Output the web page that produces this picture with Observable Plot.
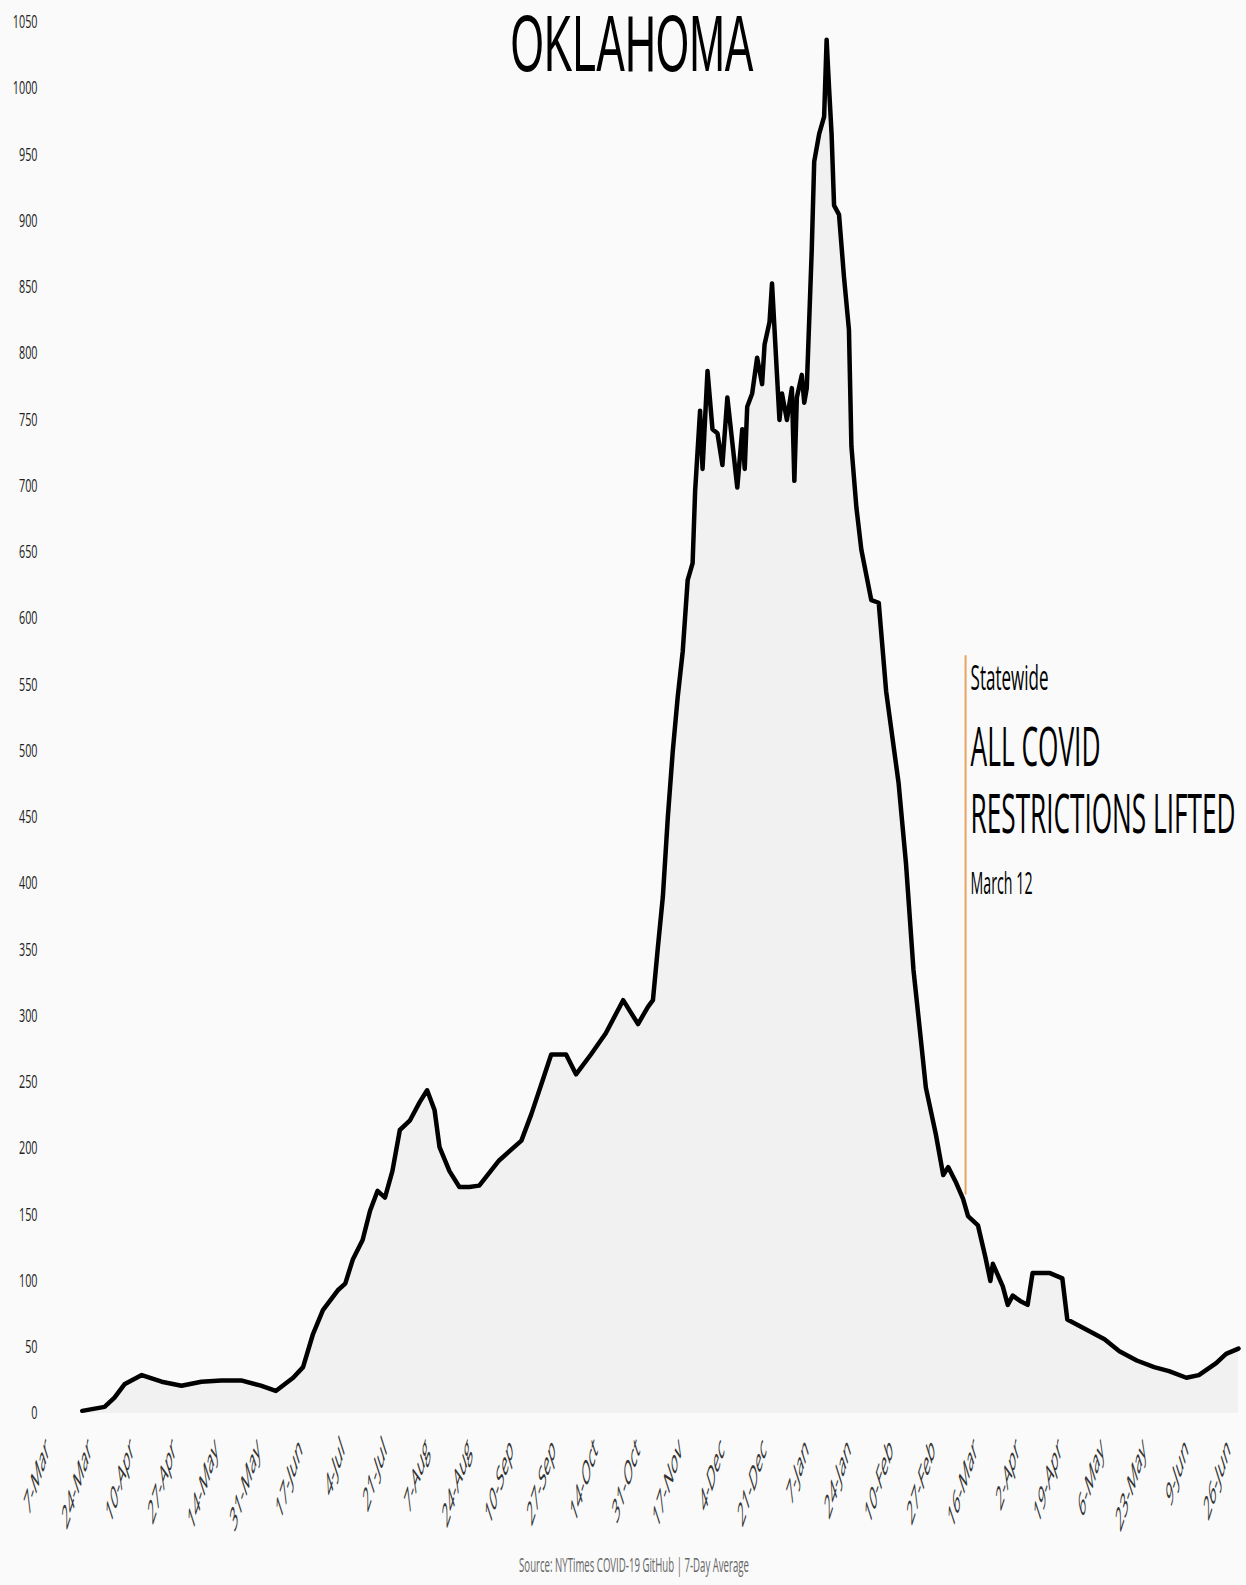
<!DOCTYPE html>
<html>
<head>
<meta charset="utf-8">
<script src="https://cdn.jsdelivr.net/npm/d3@7"></script>
<script src="https://cdn.jsdelivr.net/npm/@observablehq/plot@0.6"></script>
<style>
html, body { margin: 0; padding: 0; background: #fafafa; }
#chart { width: 1246px; height: 1585px; }
</style>
</head>
<body>
<div id="chart"></div>
<script>
// ---- data ----
const dates = [
  "2020-03-21","2020-03-30","2020-04-03","2020-04-07","2020-04-14","2020-04-22","2020-04-30","2020-05-08",
  "2020-05-16","2020-05-24","2020-06-01","2020-06-07","2020-06-14","2020-06-18","2020-06-22","2020-06-26",
  "2020-07-02","2020-07-05","2020-07-08","2020-07-12","2020-07-15","2020-07-18","2020-07-21","2020-07-24",
  "2020-07-27","2020-07-31","2020-08-04","2020-08-07","2020-08-10","2020-08-12","2020-08-16","2020-08-20",
  "2020-08-24","2020-08-28","2020-09-05","2020-09-14","2020-09-18","2020-09-23","2020-09-26","2020-10-02",
  "2020-10-06","2020-10-12","2020-10-18","2020-10-25","2020-10-31","2020-11-04","2020-11-06","2020-11-08",
  "2020-11-10","2020-11-12","2020-11-14","2020-11-16","2020-11-18","2020-11-20","2020-11-22","2020-11-23",
  "2020-11-25","2020-11-26","2020-11-28","2020-11-30","2020-12-02","2020-12-04","2020-12-06","2020-12-08",
  "2020-12-10","2020-12-12","2020-12-13","2020-12-14","2020-12-16","2020-12-18","2020-12-20","2020-12-21",
  "2020-12-23","2020-12-24","2020-12-26","2020-12-27","2020-12-28","2020-12-30","2021-01-01","2021-01-02",
  "2021-01-03","2021-01-05","2021-01-06","2021-01-07","2021-01-09","2021-01-10","2021-01-12","2021-01-14",
  "2021-01-15","2021-01-16","2021-01-17","2021-01-18","2021-01-20","2021-01-22","2021-01-24","2021-01-25",
  "2021-01-27","2021-01-29","2021-02-02","2021-02-05","2021-02-08","2021-02-13","2021-02-16","2021-02-19",
  "2021-02-22","2021-02-24","2021-02-28","2021-03-03","2021-03-05","2021-03-08","2021-03-11","2021-03-13",
  "2021-03-17","2021-03-20","2021-03-22","2021-03-23","2021-03-27","2021-03-29","2021-03-31","2021-04-03",
  "2021-04-06","2021-04-08","2021-04-15","2021-04-20","2021-04-22","2021-04-30","2021-05-07","2021-05-13",
  "2021-05-20","2021-05-27","2021-06-02","2021-06-09","2021-06-14","2021-06-21","2021-06-25","2021-06-30"
];
const hospitalized = [
  2, 5, 12, 22, 29, 24, 21, 24,
  25, 25, 21, 17, 27, 35, 60, 78,
  93, 98, 116, 131, 153, 168, 163, 183,
  214, 221, 235, 244, 229, 201, 183, 171,
  171, 172, 191, 206, 226, 254, 271, 271,
  256, 271, 287, 312, 294, 307, 312, 352,
  390, 450, 500, 541, 575, 629, 642, 696,
  757, 713, 787, 743, 740, 716, 767, 733,
  699, 743, 713, 760, 770, 797, 777, 807,
  824, 853, 784, 750, 770, 750, 774, 704,
  767, 784, 763, 774, 878, 945, 966, 979,
  1037, 1000, 966, 912, 905, 858, 818, 730,
  684, 652, 614, 612, 545, 476, 415, 335,
  282, 246, 211, 180, 186, 175, 162, 149,
  142, 118, 100, 113, 96, 82, 89, 85,
  82, 106, 106, 102, 71, 63, 56, 47,
  40, 35, 32, 27, 29, 38, 45, 49
];
const yTicks = [0,50,100,150,200,250,300,350,400,450,500,550,600,650,700,750,800,850,900,950,1000,1050];
const xTickDates = [
  "2020-03-07","2020-03-24","2020-04-10","2020-04-27","2020-05-14","2020-05-31","2020-06-17","2020-07-04",
  "2020-07-21","2020-08-07","2020-08-24","2020-09-10","2020-09-27","2020-10-14","2020-10-31","2020-11-17",
  "2020-12-04","2020-12-21","2021-01-07","2021-01-24","2021-02-10","2021-02-27","2021-03-16","2021-04-02",
  "2021-04-19","2021-05-06","2021-05-23","2021-06-09","2021-06-26"
];
const titleText = "OKLAHOMA";
const annotationDate = "2021-03-12";
const annotationLines = ["Statewide", "ALL COVID", "RESTRICTIONS LIFTED", "March 12"];
const sourceText = "Source: NYTimes COVID-19 GitHub | 7-Day Average";

// ---- build ----
const data = dates.map((d, i) => ({date: new Date(d), value: hospitalized[i]}));
const xTicks = xTickDates.map(d => new Date(d));
const annDate = new Date(annotationDate);

// layout of annotation lines (baseline in y units, font size in px, fitted width in px)
const annLayout = [
  {y: 546, size: 35, w: 78},
  {y: 489, size: 54, w: 130},
  {y: 438.5, size: 54, w: 265},
  {y: 392.5, size: 31, w: 62}
];
const annRows = annotationLines.map((t, i) => ({text: t, ...annLayout[i], date: annDate}));

const plot = Plot.plot({
  width: 1246,
  height: 1585,
  marginTop: 22,
  marginBottom: 172,
  marginLeft: 47,
  marginRight: 8,
  style: {background: "transparent", fontFamily: "'Open Sans', sans-serif", color: "#222", overflow: "visible"},
  x: {type: "utc", domain: [new Date("2020-03-07"), new Date("2021-06-30")]},
  y: {domain: [0, 1050]},
  marks: [
    Plot.areaY(data, {x: "date", y: "value", fill: "#f1f1f1"}),
    Plot.ruleX([annDate], {y1: 165, y2: 572, stroke: "#e9a25f", strokeWidth: 2}),
    Plot.lineY(data, {x: "date", y: "value", stroke: "#000", strokeWidth: 4.5, strokeLinejoin: "round", strokeLinecap: "round"}),
    Plot.axisY({ticks: yTicks, tickSize: 0, tickPadding: 10, tickFormat: d => String(d), fontSize: 18, label: null}),
    Plot.axisX({ticks: xTicks, tickSize: 0, tickPadding: 30, tickFormat: d3.utcFormat("%-d-%b"), tickRotate: -45, fontSize: 34, label: null, fill: "#333"}),
    Plot.text([titleText], {frameAnchor: "top", text: d => d, fontSize: 80, fontFamily: "'Liberation Sans', sans-serif", lineAnchor: "bottom", dy: 48, dx: -11, fill: "#000"}),
    Plot.text(annRows, {x: "date", y: "y", text: "text", fontSize: "size", textAnchor: "start", lineAnchor: "bottom", dx: 5, fill: "#000"}),
    Plot.text([sourceText], {frameAnchor: "bottom", text: d => d, fontSize: 20, lineAnchor: "bottom", dy: 158, dx: -9, fill: "#666"})
  ]
});
document.getElementById("chart").append(plot);

// horizontally condensed lettering, as in the reference
const fitWidths = new Map([[titleText, 243], [sourceText, 230]]);
annRows.forEach(r => fitWidths.set(r.text, r.w));
plot.querySelectorAll("text").forEach(t => {
  const g = t.closest("g[aria-label]");
  const label = g ? g.getAttribute("aria-label") : "";
  let sx;
  if (label.includes("x-axis")) {
    sx = 0.32;
    t.setAttribute("font-size", 34);
  } else if (label.includes("y-axis")) {
    sx = 0.6;
    t.setAttribute("font-size", 18);
  } else {
    const target = fitWidths.get(t.textContent);
    const len = t.getComputedTextLength();
    sx = target && len ? target / len : 0.5;
  }
  let tr = t.getAttribute("transform") || "";
  const xa = t.getAttribute("x");
  if (xa && !xa.endsWith("em") && parseFloat(xa) !== 0) {
    tr += ` translate(${parseFloat(xa)},0)`;
    t.removeAttribute("x");
  }
  if (/rotate\(/.test(tr)) t.setAttribute("transform", tr.replace(/rotate\(/, `scale(${sx},1) rotate(`));
  else t.setAttribute("transform", `${tr} scale(${sx},1)`);
});
</script>
</body>
</html>
